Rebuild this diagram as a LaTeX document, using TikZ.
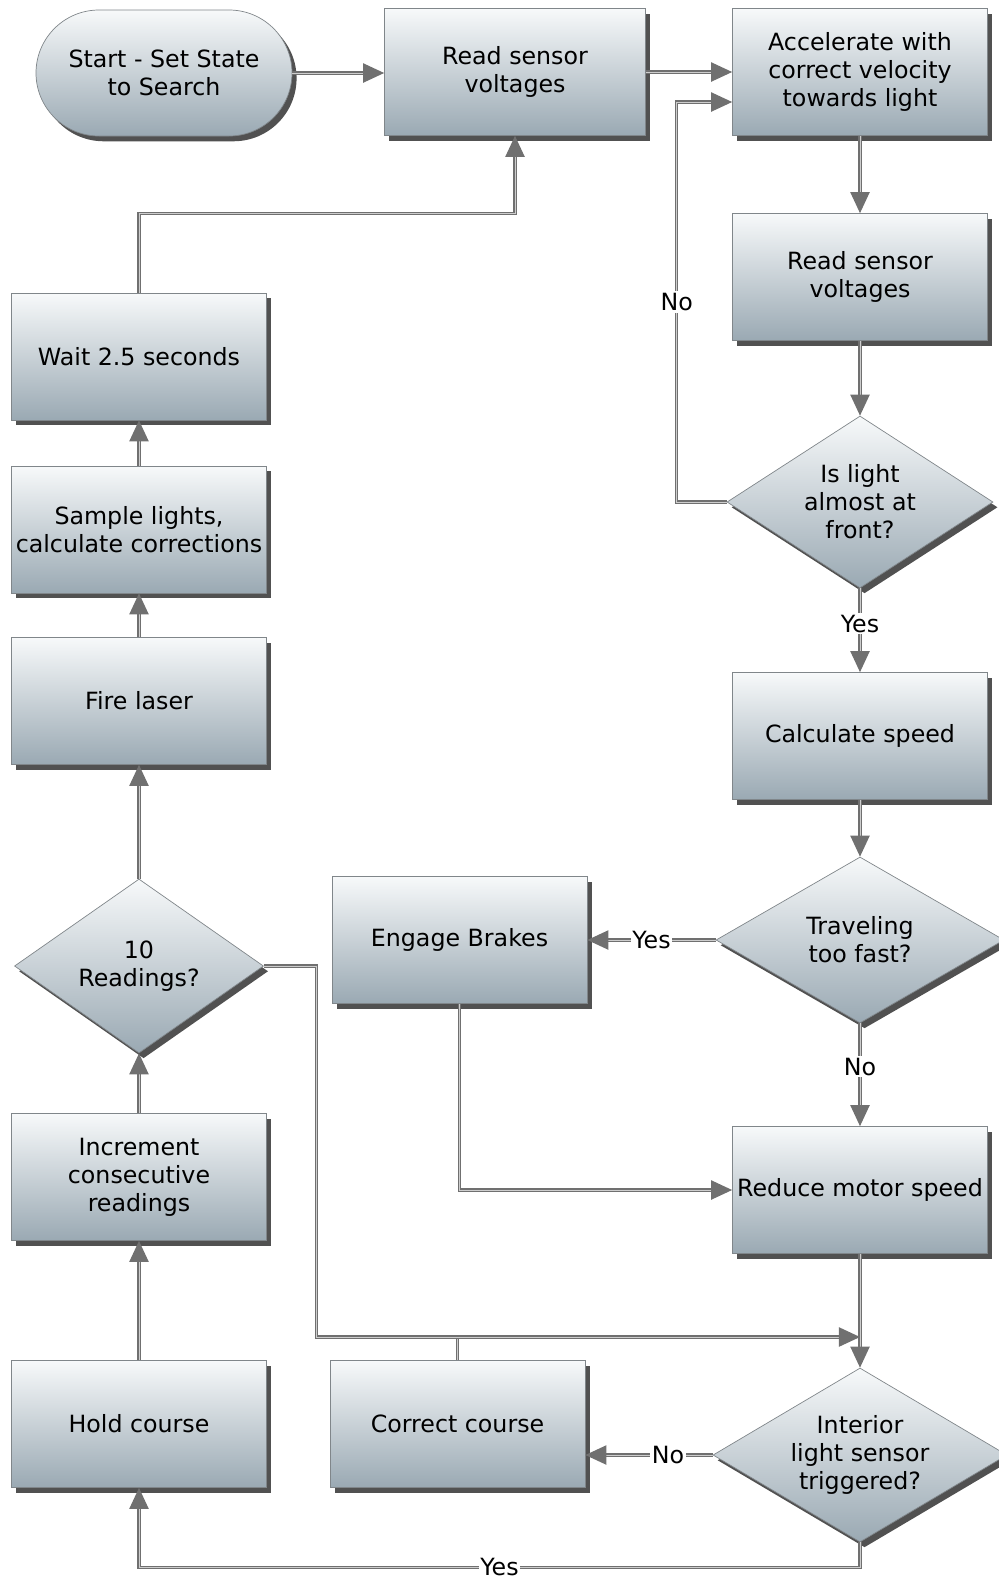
\documentclass[tikz,border=0pt]{standalone}
\usepackage{fontspec}
\setmainfont{DejaVu Sans}
\usetikzlibrary{shapes.geometric,shadows,arrows.meta}

\definecolor{boxtop}{RGB}{247,249,250}
\definecolor{boxbottom}{RGB}{154,169,179}
\definecolor{boxedge}{RGB}{128,134,138}
\definecolor{linegray}{RGB}{112,112,112}
\definecolor{linelight}{RGB}{205,205,205}

\begin{document}
\begin{tikzpicture}[
    box/.style={rectangle, draw=boxedge, top color=boxtop, bottom color=boxbottom,
        minimum width=5.1cm, minimum height=2.54cm, inner sep=2pt, align=center,
        font=\fontsize{13.5}{16}\selectfont,
        drop shadow={shadow xshift=2.6pt, shadow yshift=-3pt, opacity=0.85, fill=black!80}},
    terminal/.style={box, rounded corners=1.26cm},
    decision/.style={box, diamond, inner sep=0pt},
    dtext/.style={align=center, inner sep=0pt, font=\fontsize{13.5}{16}\selectfont},
    flow/.style={draw=linegray, double=linelight, double distance=0.45pt, line width=0.75pt,
        -{Triangle[length=12pt, width=11pt, fill=linegray]}},
    link/.style={draw=linegray, double=linelight, double distance=0.45pt, line width=0.75pt},
    lbl/.style={fill=white, inner sep=1pt, font=\fontsize{13.5}{16}\selectfont}
]
\useasboundingbox (0,0) rectangle (19.98,-31.60);

% --- top row ---
\node[terminal, minimum width=5.12cm, minimum height=2.52cm] (start) at (3.28,-1.46) {Start - Set State\\to Search};
\node[box, minimum width=5.22cm] (read1) at (10.30,-1.44) {Read sensor\\voltages};
\node[box] (accel) at (17.20,-1.44) {Accelerate with\\correct velocity\\towards light};

% --- right column ---
\node[box] (read2) at (17.20,-5.54) {Read sensor\\voltages};
\node[decision, minimum width=5.32cm, minimum height=3.44cm,
      label={[dtext]center:Is light\\almost at\\front?}] (front) at (17.20,-10.04) {};
\node[box] (calc) at (17.20,-14.72) {Calculate speed};
\node[decision, minimum width=5.76cm, minimum height=3.32cm,
      label={[dtext]center:Traveling\\too fast?}] (fast) at (17.20,-18.80) {};
\node[box] (reduce) at (17.20,-23.80) {Reduce motor speed};
\node[decision, minimum width=5.88cm, minimum height=3.48cm,
      label={[dtext]center:Interior\\light sensor\\triggered?}] (interior) at (17.20,-29.10) {};

% --- middle ---
\node[box] (brakes) at (9.19,-18.80) {Engage Brakes};
\node[box] (correct) at (9.15,-28.48) {Correct course};

% --- left column ---
\node[box] (hold) at (2.78,-28.48) {Hold course};
\node[box] (incr) at (2.78,-23.54) {Increment\\consecutive\\readings};
\node[decision, minimum width=4.98cm, minimum height=3.48cm,
      label={[dtext]center:10\\Readings?}] (ten) at (2.78,-19.32) {};
\node[box] (fire) at (2.78,-14.02) {Fire laser};
\node[box] (sample) at (2.78,-10.59) {Sample lights,\\calculate corrections};
\node[box] (wait) at (2.78,-7.13) {Wait 2.5 seconds};

\coordinate (join) at (17.20,-26.74);

% --- search loop ---
\draw[flow] (start.east) -- (start.east -| read1.west);
\draw[flow] (read1) -- (accel);
\draw[flow] (accel) -- (read2);
\draw[flow] (read2) -- (front);
\draw[flow] (front.west) -- ++(-1.0,0) |- node[lbl, pos=0.25] {No} ([yshift=-0.6cm]accel.west);
\draw[flow] (front) -- node[lbl, pos=0.42] {Yes} (calc);
\draw[flow] (calc) -- (fast);
\draw[flow] (fast) -- node[lbl] {Yes} (brakes);
\draw[flow] (fast) -- node[lbl, pos=0.42] {No} (reduce);
\draw[flow] (brakes.south) |- (reduce.west);
\draw[flow] (reduce) -- (interior);

% --- course correction ---
\draw[flow] (interior.west) -- node[lbl, pos=0.35] {No} (interior.west -| correct.east);
\draw[link] (correct.north) -- (correct.north |- join);
\draw[flow] (ten.east) -- ++(1.05,0) |- (join);
\draw[flow] (interior.south) -- ++(0,-0.50) -| node[lbl, pos=0.25] {Yes} (hold.south);

% --- readings loop ---
\draw[flow] (hold) -- (incr);
\draw[flow] (incr) -- (ten);
\draw[flow] (ten) -- (fire);
\draw[flow] (fire) -- (sample);
\draw[flow] (sample) -- (wait);
\draw[flow] (wait.north) -- ++(0,1.58) -| (read1.south);

\end{tikzpicture}
\end{document}
